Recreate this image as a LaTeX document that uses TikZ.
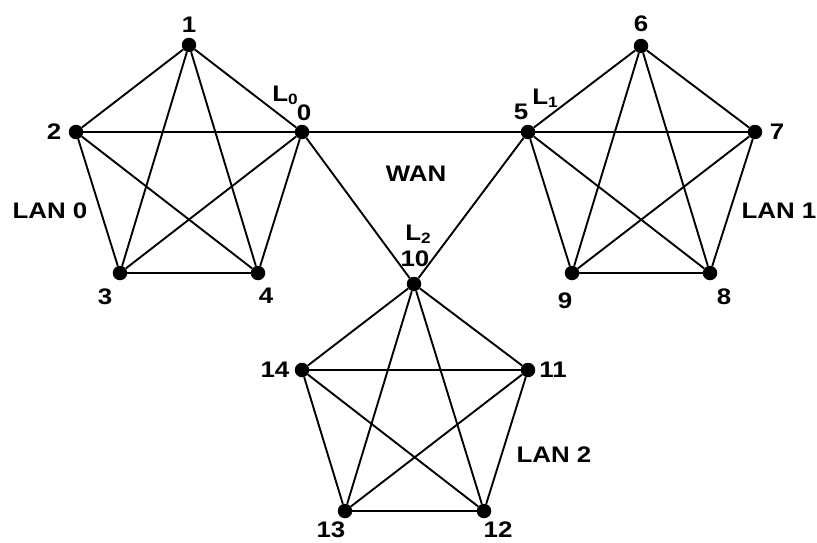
\documentclass[tikz,border=0pt]{standalone}
\usepackage{fontspec}
\setmainfont{Liberation Sans}
\usepackage{graphicx}
\begin{document}
\begin{tikzpicture}[x=1pt,y=-1pt,
  dot/.style={circle,fill=black,inner sep=0pt,minimum size=14.5pt},
  lbl/.style={inner sep=0pt,font=\bfseries\fontsize{22.5}{24}\selectfont},
  link/.style={line width=1.9pt}]
\useasboundingbox (0,0) rectangle (817,543);
\newcommand{\sx}[1]{\scalebox{1.15}[1]{#1}}
\newcommand{\Lsub}[1]{\sx{L\raisebox{-0.25ex}{\fontsize{15}{15}\selectfont #1}}}
% nodes
\node[dot] (n1) at (189,45) {};
\node[dot] (n2) at (76,132) {};
\node[dot] (n0) at (302,132) {};
\node[dot] (n3) at (120,273) {};
\node[dot] (n4) at (258,273) {};
\node[dot] (n6) at (641,46) {};
\node[dot] (n5) at (528,132) {};
\node[dot] (n7) at (755,132) {};
\node[dot] (n9) at (572,273) {};
\node[dot] (n8) at (710,273) {};
\node[dot] (n10) at (414,284) {};
\node[dot] (n14) at (302,370) {};
\node[dot] (n11) at (528,370) {};
\node[dot] (n13) at (345,511) {};
\node[dot] (n12) at (484,511) {};
% edges LAN 0
\foreach \a/\b in {n0/n1,n0/n2,n0/n3,n0/n4,n1/n2,n1/n3,n1/n4,n2/n3,n2/n4,n3/n4}
  \draw[link] (\a) -- (\b);
% edges LAN 1
\foreach \a/\b in {n5/n6,n5/n7,n5/n8,n5/n9,n6/n7,n6/n8,n6/n9,n7/n8,n7/n9,n8/n9}
  \draw[link] (\a) -- (\b);
% edges LAN 2
\foreach \a/\b in {n10/n11,n10/n12,n10/n13,n10/n14,n11/n12,n11/n13,n11/n14,n12/n13,n12/n14,n13/n14}
  \draw[link] (\a) -- (\b);
% WAN
\draw[link] (n0) -- (n5);
\draw[link] (n0) -- (n10);
\draw[link] (n5) -- (n10);
% labels
\node[lbl] (t1) at (189,25) {\sx{1}};
\node[lbl] (t2) at (54,132) {\sx{2}};
\node[lbl] (t0) at (304,113) {\sx{0}};
\node[lbl] (tL0) at (285,95) {\Lsub{0}};
\node[lbl] (t3) at (105,297) {\sx{3}};
\node[lbl] (t4) at (266,296) {\sx{4}};
\node[lbl] (tlan0) at (50,211) {\sx{LAN 0}};
\node[lbl] (twan) at (416,174) {\sx{WAN}};
\node[lbl] (t6) at (641,24) {\sx{6}};
\node[lbl] (t5) at (521,112) {\sx{5}};
\node[lbl] (tL1) at (545,98) {\Lsub{1}};
\node[lbl] (t7) at (777,132) {\sx{7}};
\node[lbl] (t9) at (565,301) {\sx{9}};
\node[lbl] (t8) at (724,297) {\sx{8}};
\node[lbl] (tlan1) at (779,211) {\sx{LAN 1}};
\node[lbl] (tL2) at (418,234) {\Lsub{2}};
\node[lbl] (t10) at (415,259) {\sx{10}};
\node[lbl] (t14) at (275,370) {\sx{14}};
\node[lbl] (t11) at (553,370) {\sx{11}};
\node[lbl] (t13) at (331,530) {\sx{13}};
\node[lbl] (t12) at (498,530) {\sx{12}};
\node[lbl] (tlan2) at (554,455) {\sx{LAN 2}};
\end{tikzpicture}
\end{document}
